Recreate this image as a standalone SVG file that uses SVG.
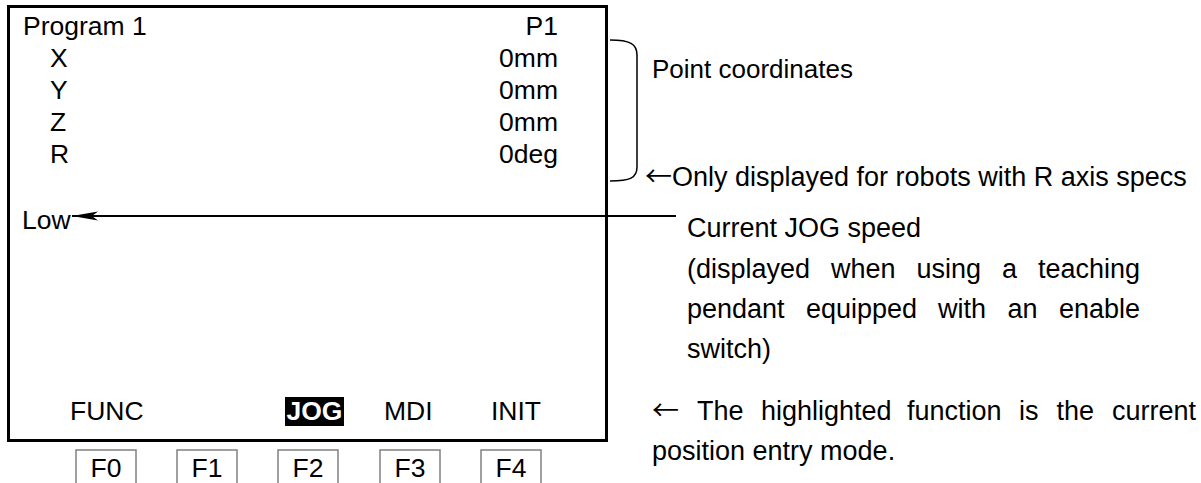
<svg xmlns="http://www.w3.org/2000/svg" width="1201" height="483" viewBox="0 0 1201 483">
<defs>
<style>
.t{font-family:"Liberation Sans",Arial,sans-serif;font-size:26.5px;fill:#000}
.r{font-family:"Liberation Sans",Arial,sans-serif;font-size:27px;fill:#000}
.ar{font-family:"Noto Sans CJK JP","Noto Sans CJK SC",sans-serif}
.key{fill:#fff;stroke:#808080;stroke-width:1.5}
</style>
<marker id="ah" markerWidth="26" markerHeight="10" refX="26" refY="5" orient="auto" markerUnits="userSpaceOnUse">
<path d="M26,5 L0,0.5 L6,5 L0,9.5 Z" fill="#000"/>
</marker>
</defs>
<rect width="1201" height="483" fill="#fff"/>
<g id="screen">
<rect x="8.5" y="6.5" width="598" height="434" fill="none" stroke="#000" stroke-width="3"/>
<text class="t" x="23" y="35">Program 1</text>
<text class="t" x="558" y="35" text-anchor="end">P1</text>
<text class="t" x="50" y="67">X</text>
<text class="t" x="558" y="67" text-anchor="end">0mm</text>
<text class="t" x="50" y="99">Y</text>
<text class="t" x="558" y="99" text-anchor="end">0mm</text>
<text class="t" x="50" y="131">Z</text>
<text class="t" x="558" y="131" text-anchor="end">0mm</text>
<text class="t" x="50" y="163">R</text>
<text class="t" x="558" y="163" text-anchor="end">0deg</text>
<text class="t" x="22" y="229">Low</text>
<text class="t" x="70" y="420">FUNC</text>
<rect x="285" y="397" width="59" height="29" fill="#000"/>
<text class="t" x="314.5" y="420" text-anchor="middle" font-weight="bold" style="fill:#fff">JOG</text>
<text class="t" x="384" y="420">MDI</text>
<text class="t" x="491" y="420">INIT</text>
</g>
<g id="keys">
<rect class="key" x="76" y="450" width="60" height="40"/>
<text class="t" x="106" y="477" text-anchor="middle">F0</text>
<rect class="key" x="177" y="450" width="60" height="40"/>
<text class="t" x="207" y="477" text-anchor="middle">F1</text>
<rect class="key" x="278" y="450" width="60" height="40"/>
<text class="t" x="308" y="477" text-anchor="middle">F2</text>
<rect class="key" x="380" y="450" width="60" height="40"/>
<text class="t" x="410" y="477" text-anchor="middle">F3</text>
<rect class="key" x="481" y="450" width="60" height="40"/>
<text class="t" x="511" y="477" text-anchor="middle">F4</text>
</g>
<g id="connectors">
<path d="M610,40 C630,40 637,44 637,55 L637,167 C637,178 630,181 610,181" fill="none" stroke="#000" stroke-width="1.5"/>
<line x1="676" y1="216" x2="72" y2="216" stroke="#000" stroke-width="2" marker-end="url(#ah)"/>
</g>
<g id="notes">
<text class="r" x="652" y="78" style="font-size:26px">Point coordinates</text>
<text class="r" x="645" y="186"><tspan class="ar">←</tspan>Only displayed for robots with R axis specs</text>
<text class="r" x="687" y="237">Current JOG speed</text>
<text class="r" y="278"><tspan x="687">(displayed</tspan><tspan x="831">when</tspan><tspan x="916.5">using</tspan><tspan x="1002">a</tspan><tspan x="1140" text-anchor="end">teaching</tspan></text>
<text class="r" y="318"><tspan x="687">pendant</tspan><tspan x="806">equipped</tspan><tspan x="938">with</tspan><tspan x="1007.5">an</tspan><tspan x="1140" text-anchor="end">enable</tspan></text>
<text class="r" x="687" y="358">switch)</text>
<text class="r" y="420"><tspan x="652" class="ar">←</tspan><tspan x="697">The</tspan><tspan x="761">highlighted</tspan><tspan x="907">function</tspan><tspan x="1019">is</tspan><tspan x="1056.5">the</tspan><tspan x="1196" text-anchor="end">current</tspan></text>
<text class="r" x="652" y="460">position entry mode.</text>
</g>
</svg>
